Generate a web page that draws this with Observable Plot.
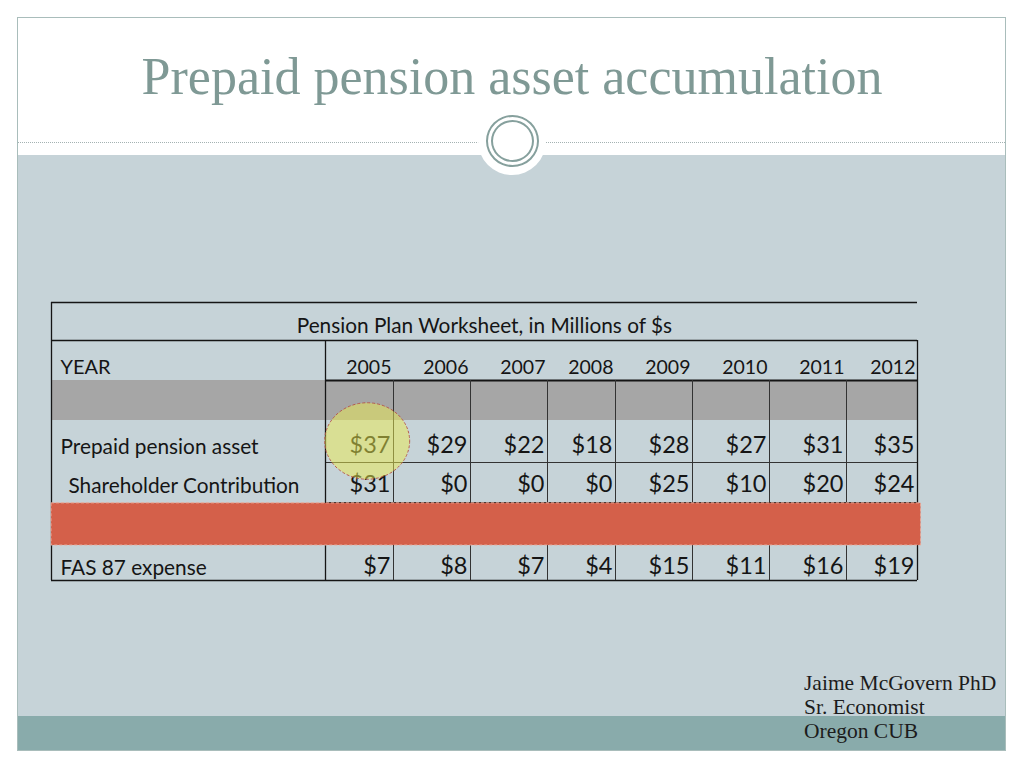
<!DOCTYPE html>
<html><head><meta charset="utf-8">
<script src="https://cdn.jsdelivr.net/npm/d3@7"></script>
<script src="https://cdn.jsdelivr.net/npm/@observablehq/plot@0.6"></script>
<style>
body{margin:0;width:1024px;height:768px;position:relative;overflow:hidden;background:#fff;font-family:Lato,sans-serif}
#frame{position:absolute;left:17px;top:17px;width:989px;height:734px;border:1px solid #a9bdbb;box-sizing:border-box;background:#fff}
#grayarea{position:absolute;left:18px;top:155px;width:987px;height:561px;background:#c6d3d8}
#band{position:absolute;left:18px;top:716px;width:987px;height:34px;background:#89abab}
#dots{position:absolute;left:18px;top:142px;width:987px;height:0;border-top:1.5px dotted #a4b2b2}
#disc{position:absolute;left:478px;top:107px;width:68px;height:68px;border-radius:50%;background:#fff}
#ring1{position:absolute;left:486px;top:115px;width:53px;height:52px;border-radius:50%;border:2px solid #86a09d;box-sizing:border-box}
#ring2{position:absolute;left:491px;top:120px;width:43px;height:42px;border-radius:50%;border:2px solid #86a09d;box-sizing:border-box}
#title{position:absolute;left:0;top:47px;width:1024px;text-align:center;font-family:"Liberation Serif",serif;font-size:52px;color:#7f9995;white-space:nowrap}
#chart{position:absolute;left:0;top:0}
#author{position:absolute;left:804px;top:671px;font-family:"Liberation Serif",serif;font-size:21.5px;line-height:24px;color:#1c1c1c;white-space:nowrap}
</style></head>
<body>
<div id="frame"></div>
<div id="grayarea"></div>
<div id="band"></div>
<div id="dots"></div>
<div id="disc"></div>
<div id="ring1"></div>
<div id="ring2"></div>
<div id="title">Prepaid pension asset accumulation</div>
<div id="chart"></div>
<div id="author">Jaime McGovern PhD<br>Sr. Economist<br>Oregon CUB</div>
<script>
// ---- data ----
const tableTitle = "Pension Plan Worksheet, in Millions of $s";
const headerLabel = "YEAR";
const years = ["2005","2006","2007","2008","2009","2010","2011","2012"];
const rowLabels = ["Prepaid pension asset","Shareholder Contribution","FAS 87 expense"];
const prepaid = [37,29,22,18,28,27,31,35];
const shareholder = [31,0,0,0,25,10,20,24];
const fas87 = [7,8,7,4,15,11,16,19];
const highlightYear = "2005";
const highlightRow = "Prepaid pension asset";

// table structure: row index bands (title, year, shaded, prepaid, shareholder, hidden, fas)
const rowIndex = {"title":0,"YEAR":1,"shade":2,"Prepaid pension asset":3,"Shareholder Contribution":4,"hidden":5,"FAS 87 expense":6};
const textRowPos = {"title":0.63,"YEAR":1.68,"Prepaid pension asset":3.6,"Shareholder Contribution":4.55,"FAS 87 expense":6.6};
const labelRowPos = {"Prepaid pension asset":3.65,"Shareholder Contribution":4.6,"FAS 87 expense":6.65};
const labelIndent = {"Prepaid pension asset":9,"Shareholder Contribution":17,"FAS 87 expense":9};
const valueRows = [
  {row:"Prepaid pension asset", values:prepaid},
  {row:"Shareholder Contribution", values:shareholder},
  {row:"FAS 87 expense", values:fas87}
];
const cells = valueRows.flatMap(r => r.values.map((v,i) => ({row:r.row, year:years[i], col:i+1, value:v})));
const yearCells = years.map((y,i) => ({year:y, col:i+1}));
const labels = rowLabels.map(l => ({label:l}));

const ink = "#151515";
const hl = cells.filter(c => c.year === highlightYear && c.row === highlightRow).map(c => ({...c}));

const chart = Plot.plot({
  width:1024, height:768,
  marginTop:0, marginRight:0, marginBottom:0, marginLeft:0,
  style:{background:"transparent", fontFamily:"Lato, sans-serif", overflow:"visible"},
  x:{type:"linear", domain:[-4,0,1,2,3,4,5,6,7,8], range:[51,325,393,470,547,615,692,769,846,917], axis:null},
  y:{type:"linear", domain:[0,1,2,3,4,5,6,7], range:[302,340,380,420,462,502,545,580], axis:null},
  marks:[
    // shaded row
    Plot.rect([0], {x1:-4, x2:8, y1:rowIndex.shade, y2:rowIndex.shade+1, fill:"#a6a6a6"}),
    // horizontal rules
    Plot.ruleY([0,1,7], {y:d=>d, x1:-4, x2:8, stroke:ink, strokeWidth:1.3}),
    Plot.ruleY([2], {y:d=>d, x1:0, x2:8, stroke:ink, strokeWidth:2}),
    Plot.ruleY([4,5], {y:d=>d, x1:0, x2:8, stroke:"#333", strokeWidth:1}),
    // vertical rules
    Plot.ruleX([-4], {x:d=>d, y1:0, y2:7, stroke:ink, strokeWidth:1.3}),
    Plot.ruleX([0,8], {x:d=>d, y1:1, y2:7, stroke:ink, strokeWidth:1.3}),
    Plot.ruleX(d3.range(1,8), {x:d=>d, y1:2, y2:7, stroke:"#333", strokeWidth:1}),
    // hidden row overlay
    Plot.rect([0], {x1:-4, x2:8.05, y1:rowIndex.hidden+0.02, y2:rowIndex.hidden+1, fill:"#d4604a", stroke:"#e9a999", strokeDasharray:"3,2", strokeWidth:1}),
    // table title
    Plot.text([tableTitle], {x:2.18, y:textRowPos.title, text:d=>d, fontSize:20.8, fill:ink, textAnchor:"middle"}),
    // header
    Plot.text([headerLabel], {x:-4, y:textRowPos.YEAR, text:d=>d, dx:9, fontSize:20, fill:ink, textAnchor:"start"}),
    Plot.text(yearCells, {x:"col", y:textRowPos.YEAR, text:"year", dx:-2, fontSize:19.5, fill:ink, textAnchor:"end"}),
    // row labels
    Plot.text(labels, {x:-4, y:d=>labelRowPos[d.label], text:"label", fontSize:20.8, fill:ink, textAnchor:"start",
      render:(index, scales, values, dims, ctx, next) => {
        const g = next(index, scales, values, dims, ctx);
        g.querySelectorAll("text").forEach((t,k) => {
          const lab = labels[index[k]].label;
          t.setAttribute("x", +t.getAttribute("x") + labelIndent[lab]);
        });
        return g;
      }}),
    // values
    Plot.text(cells, {x:"col", y:d=>textRowPos[d.row], text:d=>"$"+d.value, dx:-3, fontSize:23.5, fill:ink, textAnchor:"end"}),
    // highlight ellipse
    Plot.dot(hl, {x:d=>d.col-0.38, y:d=>textRowPos[d.row]-0.1, r:42.5, fill:"#ecec50", fillOpacity:0.5, stroke:"#b5574a", strokeDasharray:"3,2", strokeWidth:1,
      render:(index, scales, values, dims, ctx, next) => {
        const g = next(index, scales, values, dims, ctx);
        const cx = values.x[index[0]], cy = values.y[index[0]];
        g.setAttribute("transform", `translate(${cx},${cy}) scale(1,0.9) translate(${-cx},${-cy})`);
        return g;
      }})
  ]
});
document.getElementById("chart").appendChild(chart);
</script>
</body></html>
